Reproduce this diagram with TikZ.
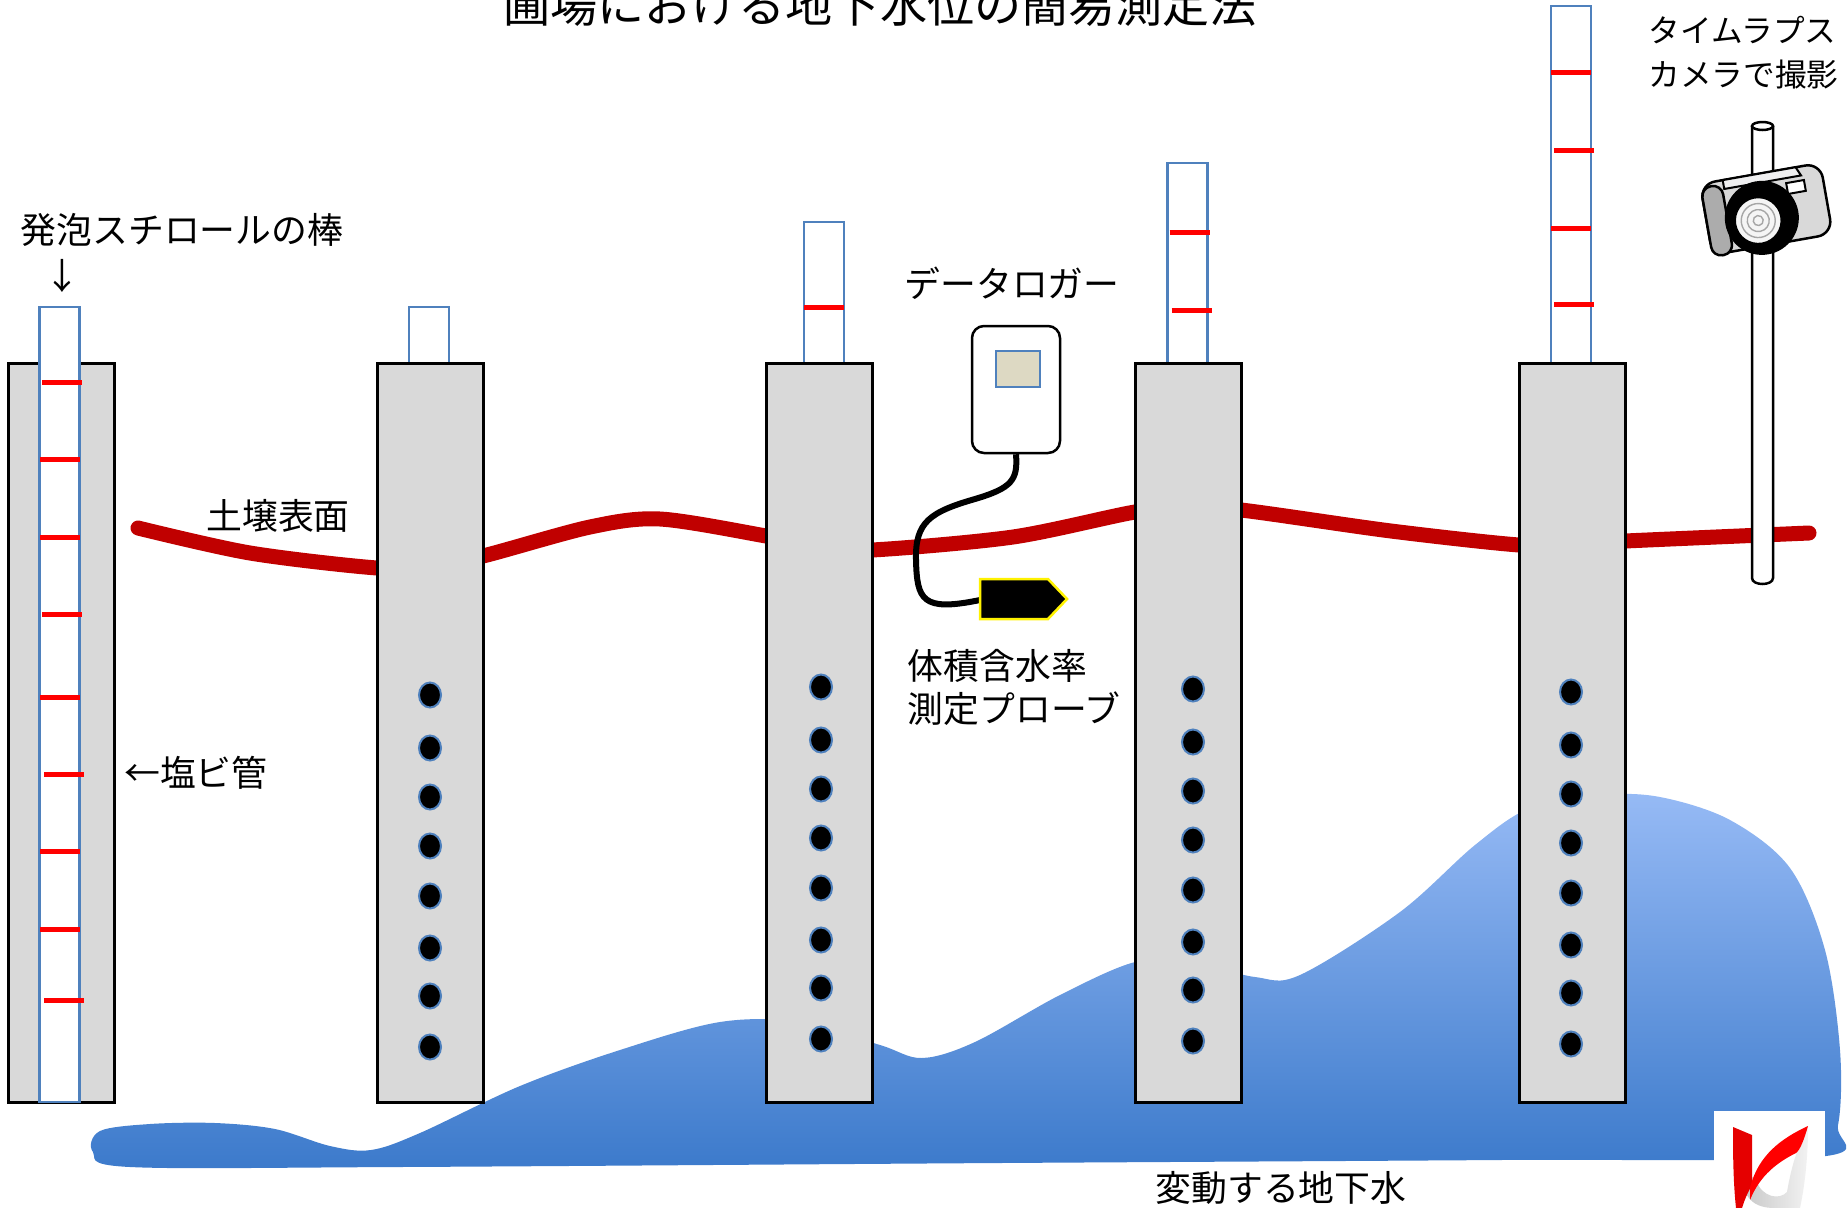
\documentclass[tikz,border=0pt]{standalone}
\usepackage{fontspec}
\setmainfont{Noto Sans CJK JP}
\usepackage{xcolor}
\definecolor{soilred}{HTML}{C00000}
\definecolor{foamblue}{HTML}{4F81BD}
\definecolor{pvcgray}{HTML}{D9D9D9}
\definecolor{lcd}{HTML}{DDD9C3}
\definecolor{waterlight}{HTML}{96BAF5}
\definecolor{waterdark}{HTML}{3C7ACB}

\begin{document}
\begin{tikzpicture}[x=0.1mm, y=-0.1mm,
    pvc/.style={draw=black, line width=0.3mm, fill=pvcgray},
    foam/.style={draw=foamblue, line width=0.25mm, fill=white},
    redmark/.style={red, line width=0.5mm},
    hole/.style={draw=foamblue, line width=0.2mm, fill=black},
    soil/.style={soilred, line width=1.5mm, line cap=round},
    cable/.style={black, line width=0.6mm},
    lbl/.style={font=\fontsize{10.2}{12.2}\selectfont, inner sep=0pt}]
  \useasboundingbox (0,0) rectangle (1848,1208);
  \clip (0,0) rectangle (1848,1208);

  \node[font=\fontsize{13.4}{16}\selectfont, inner sep=0pt] (title) at (880,5) {圃場における地下水位の簡易測定法};

  % groundwater
  \shade[top color=waterlight, bottom color=waterdark] plot[smooth cycle, tension=0.55] coordinates {
    (100,1131) (150,1124) (215,1123) (275,1129) (330,1146) (371,1150) (420,1133)
    (520,1086) (620,1050) (720,1022) (800,1022) (880,1045) (922,1058) (975,1042)
    (1060,995) (1135,962) (1190,962) (1255,977) (1300,975) (1400,912) (1475,845)
    (1530,808) (1600,795) (1660,797) (1730,820) (1790,868) (1825,950) (1840,1050)
    (1838,1125) (1818,1157) (1500,1160) (1000,1163) (400,1167) (130,1167) (93,1152)};

  % soil surface
  \draw[soil] plot[smooth, tension=0.5] coordinates {
    (138,528) (250,553) (377,568) (430,566) (483,556) (590,527) (660,519) (766,536)
    (820,547) (872,550) (1013,537) (1135,512) (1188,508) (1241,510) (1391,531)
    (1519,545) (1572,544) (1625,541) (1809,533)};

  % foam sticks standing in the pipes
  \foreach \sx/\st in {429/307, 824/222, 1187.5/163, 1571/6}
    \draw[foam] (\sx-20,\st) rectangle (\sx+20,1100);
  \foreach \sx/\sy/\d in {824/307/0, 1187.5/232/2, 1187.5/310/4, 1571/72/0, 1571/150/3, 1571/228/0, 1571/304/3}
    \draw[redmark] (\sx-20+\d,\sy) -- (\sx+20+\d,\sy);

  % PVC pipes
  \foreach \px in {8,377,766,1135,1519}
    \draw[pvc] (\px,363) rectangle (\px+106,1102);
  \foreach \hx/\hy in {430/695, 821/687, 1193/689, 1571/692}
    \foreach \dy in {0,53,102,151,201,253,301,352}
      \draw[hole] (\hx,\hy+\dy) ellipse (11 and 12.5);

  \draw[foam] (39.5,307) rectangle (79.5,1102);
  \foreach \sy/\d in {382/0, 459/-2, 537/-2, 614/0, 697/-2, 774/2, 851/-2, 929/-2, 1000/2}
    \draw[redmark] (42+\d,\sy) -- (82+\d,\sy);

  % data logger and probe
  \node[draw, line width=0.25mm, fill=white, rounded corners=1.2mm, minimum width=8.8mm, minimum height=12.7mm, inner sep=0pt] (logger) at (1016,389.5) {};
  \node[draw=foamblue, line width=0.2mm, fill=lcd, minimum width=4.4mm, minimum height=3.6mm, inner sep=0pt] (screen) at (1018,369) {};
  \coordinate (probe) at (980,600);
  \draw[cable] (logger.south) .. controls (1018,480) and (1012,488) .. (975,499)
    .. controls (930,512) and (915,522) .. (916,560)
    .. controls (917,600) and (922,612) .. (probe);
  \draw[draw=yellow, line width=0.25mm, fill=black] (980,579) -- (1048,579) -- (1067,599) -- (1048,619) -- (980,619) -- cycle;

  % camera on its pole
  \draw[line width=0.25mm, fill=white] (1752,126) -- (1752,578) .. controls (1752,586) and (1773,586) .. (1773,578) -- (1773,126);
  \draw[line width=0.25mm, fill=white] (1762.5,126) ellipse (10.5 and 4);
  \begin{scope}[shift={(1766,207)}, rotate=10]
    \draw[line width=0.25mm, fill=gray!30, rounded corners=1.5mm] (-61,-34) rectangle (61,38);
    \draw[line width=0.2mm, fill=blue!5!gray!12] (-38,-34) -- (36,-34) -- (40,-25) -- (-38,-25) -- cycle;
    \draw[line width=0.25mm, fill=gray!65, rounded corners=1mm] (-61,-30) rectangle (-40,40);
    \draw[line width=0.2mm, fill=white] (24,-20) rectangle (42,-9);
    \fill (-6,10) circle (37);
    \draw[fill=gray!8] (-10,12) circle (23);
    \foreach \r in {17,11,5}
      \draw[gray!70] (-10,12) circle (\r);
  \end{scope}

  \node[lbl] (foamlbl) at (182,230) {発泡スチロールの棒};
  \node[lbl] (arrow) at (62,276) {↓};
  \node[lbl] (soillbl) at (278,516) {土壌表面};
  \node[lbl] (pvclbl) at (196,773) {←塩ビ管};
  \node[lbl] (loggerlbl) at (1012,283) {データロガー};
  \node[lbl, align=left, anchor=west] (probelbl) at (907,687) {体積含水率\\測定プローブ};
  \node[lbl, font=\fontsize{9}{12.5}\selectfont, align=left, anchor=west] (cameralbl) at (1648,53) {タイムラプス\\カメラで撮影};
  \node[lbl] (waterlbl) at (1281,1188) {変動する地下水};

  % logo
  \fill[white] (1714,1111) rectangle (1825,1208);
  \shade[left color=gray!45, right color=gray!10] (1740,1168) .. controls (1742,1200) and (1755,1208) .. (1775,1208) -- (1800,1208)
    .. controls (1806,1180) and (1808,1150) .. (1808,1128) .. controls (1795,1150) and (1790,1175) .. (1787,1192)
    .. controls (1780,1200) and (1762,1198) .. (1756,1180) -- cycle;
  \fill[red!90!black] (1733,1127) -- (1752,1135) -- (1752,1185) .. controls (1746,1195) and (1743,1205) .. (1742,1208) -- (1736,1208)
    .. controls (1733,1180) and (1733,1150) .. (1733,1127) -- cycle;
  \fill[red] (1750,1188) .. controls (1758,1155) and (1782,1138) .. (1808,1126) .. controls (1804,1140) and (1800,1150) .. (1796,1153)
    .. controls (1778,1162) and (1760,1175) .. (1750,1200) -- cycle;
\end{tikzpicture}
\end{document}
